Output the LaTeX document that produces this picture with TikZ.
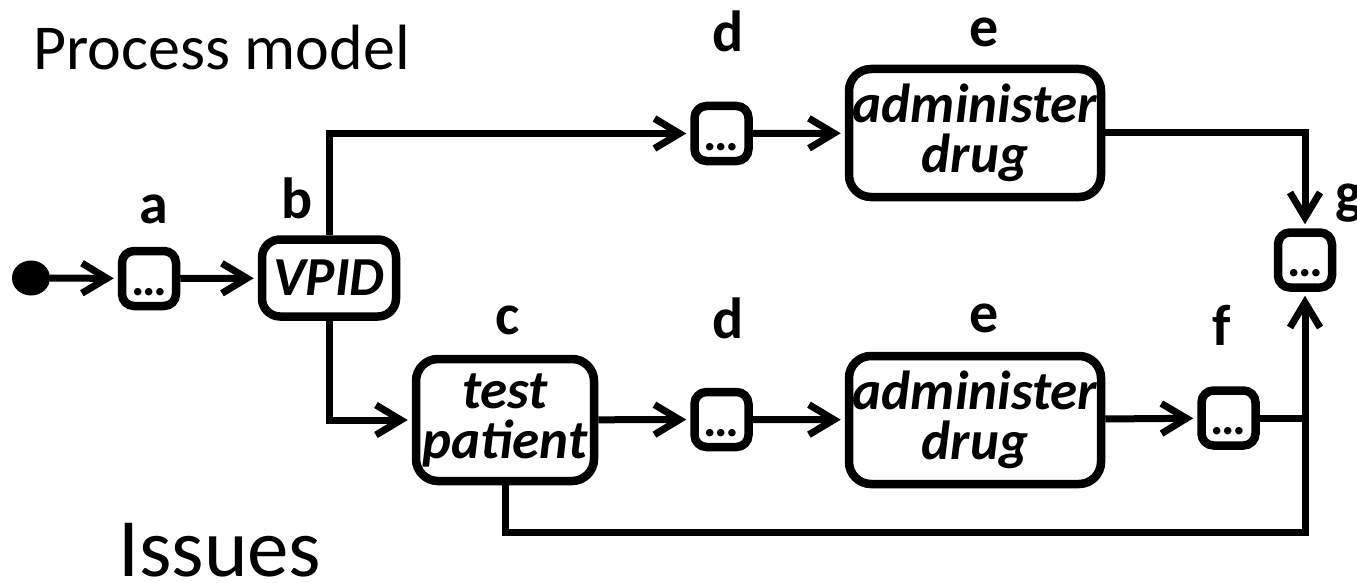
\documentclass[tikz,border=0pt]{standalone}
\usepackage{fontspec}
\setmainfont{Carlito}
\usetikzlibrary{arrows.meta,shapes.geometric}
\tikzset{
  actbox/.style={rectangle, rounded corners=22pt, draw, line width=8.5pt, align=center, inner sep=0pt, font=\fontsize{55pt}{50pt}\selectfont\bfseries\itshape},
  dotbox/.style={rectangle, rounded corners=12pt, draw, line width=8.5pt, minimum width=54pt, minimum height=55pt, inner sep=0pt, text height=33pt, text depth=0pt, font=\fontsize{50pt}{50pt}\selectfont\bfseries},
  letter/.style={anchor=base, inner sep=0pt, font=\fontsize{58pt}{58pt}\selectfont\bfseries},
  flow/.style={-{Straight Barb[length=25pt,width=30pt]}, line width=7pt, shorten >=4pt},
  link/.style={line width=7pt}
}
\begin{document}
\begin{tikzpicture}[x=1pt,y=-1pt]
\useasboundingbox (0,0) rectangle (1357,583);

% headings
\node[anchor=base west, inner sep=0pt, font=\fontsize{64pt}{64pt}\selectfont] (title) at (33,70) {Process model};
\node[anchor=base west, inner sep=0pt, font=\fontsize{83pt}{83pt}\selectfont] (issues) at (118,576) {Issues};

% activities
\node[ellipse, fill, minimum width=38pt, minimum height=35pt, inner sep=0pt] (start) at (31,278) {};
\node[dotbox] (a) at (149,278.5) {…};
\node[actbox, rounded corners=18pt, minimum width=134pt, minimum height=77pt] (vpid) at (329,278) {VPID};
\node[dotbox] (d1) at (721.5,133.5) {…};
\node[actbox, minimum width=252pt, minimum height=128pt] (e1) at (975,133) {administer\\drug};
\node[actbox, minimum width=178pt, minimum height=122pt] (test) at (505,420) {test\\patient};
\node[dotbox] (d2) at (721.5,419.5) {…};
\node[actbox, minimum width=252pt, minimum height=128pt] (e2) at (975,420) {administer\\drug};
\node[dotbox] (f) at (1228.5,418) {…};
\node[dotbox] (g) at (1305,260) {…};

% activity letters
\node[letter] (la) at (154,223) {a};
\node[letter] (lb) at (297,218) {b};
\node[letter] (lc) at (508,334) {c};
\node[letter] (ld1) at (728,52) {d};
\node[letter] (le1) at (984,47) {e};
\node[letter] (ld2) at (728,338) {d};
\node[letter] (le2) at (984,332) {e};
\node[letter] (lf) at (1222,345) {f};
\node[letter, anchor=base west] (lg) at (1335,212) {g};

% control flow
\draw[flow] (start) -- (a);
\draw[flow] (a) -- (vpid);
\draw[flow] (vpid.north) |- (d1);
\draw[flow] (vpid.south) |- (test);
\draw[flow] (d1) -- (e1);
\draw[flow] (test) -- (d2);
\draw[flow] (d2) -- (e2);
\draw[flow] (e2) -- (f);
\draw[flow] (e1) -| (g);
\coordinate (back) at (1305,532);
\draw[flow] (test.south) |- (back) -- (g);
\draw[link] (f) -- (f -| g);
\end{tikzpicture}
\end{document}
